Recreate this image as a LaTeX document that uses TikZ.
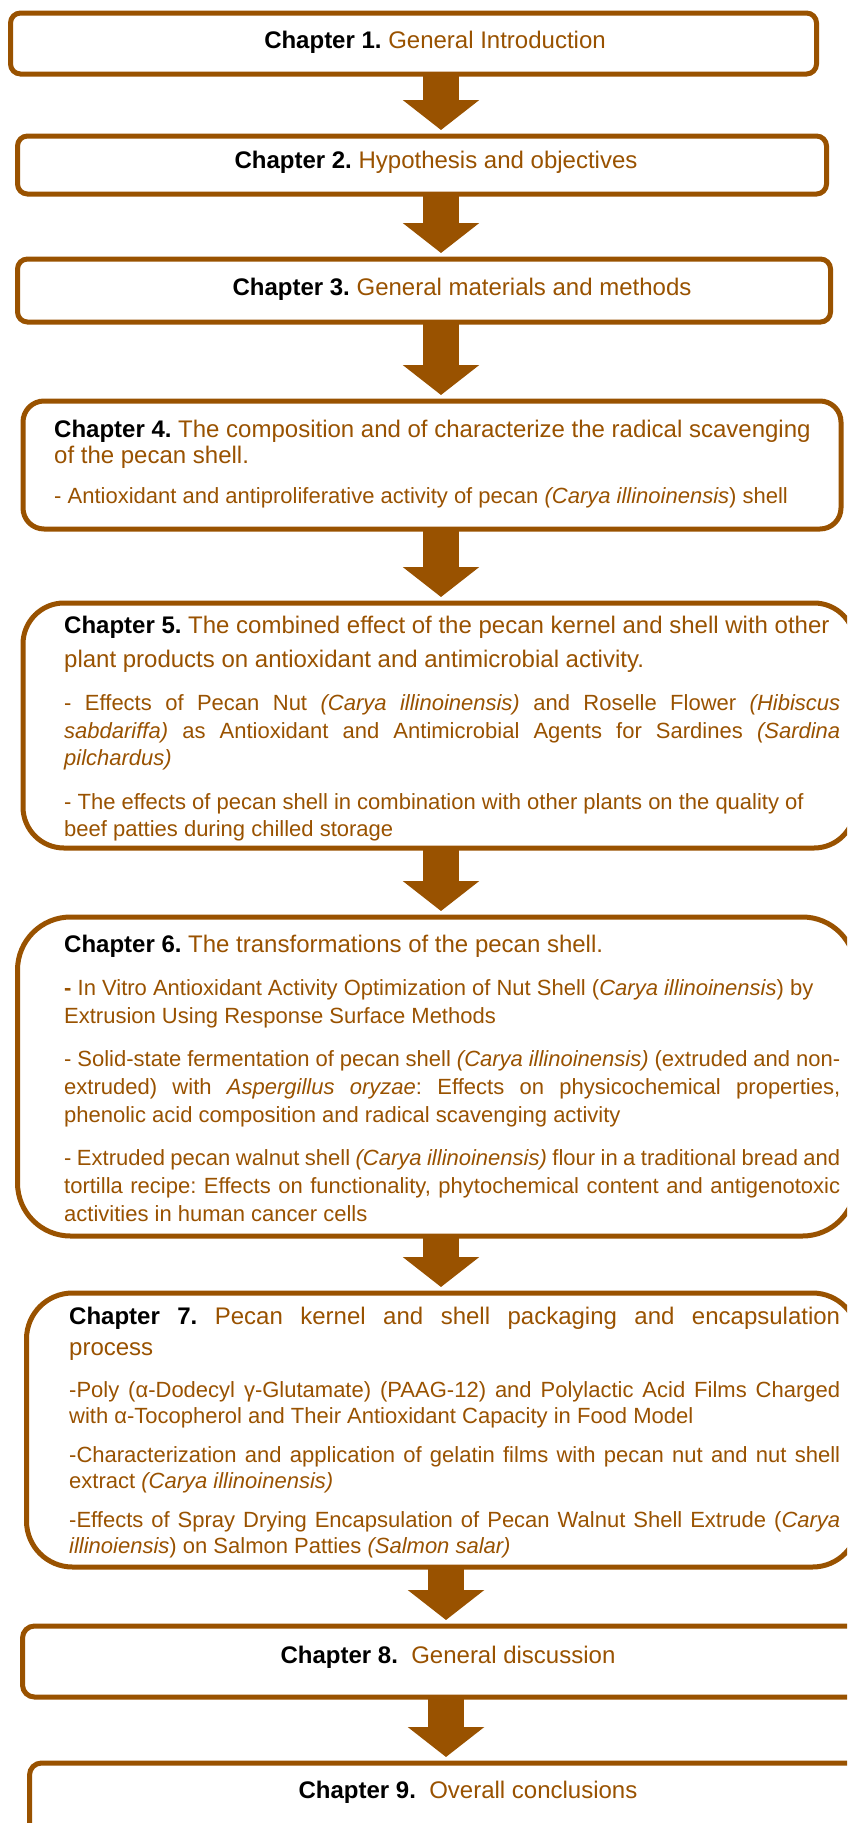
\documentclass[tikz,border=0pt]{standalone}
\usepackage{fontspec}
\setmainfont{Liberation Sans}
\usepackage{tikz}
\usetikzlibrary{arrows.meta}
\definecolor{pecan}{RGB}{153,82,0}
\frenchspacing
\newcommand{\chap}[1]{{\color{black}\bfseries #1}}
\newcommand{\headsize}[1]{\fontsize{24}{#1}\selectfont}
\newcommand{\bodysize}[1]{\fontsize{22}{#1}\selectfont}

\begin{document}
\begin{tikzpicture}[x=1pt,y=-1pt,
        chapbox/.style={draw=pecan, line width=5pt, fill=white, inner sep=0pt, outer sep=0pt, anchor=north west},
        chaptext/.style={inner sep=0pt, text=pecan, anchor=base, font={\headsize{28}}},
        listtext/.style={inner sep=0pt, text=pecan, anchor=base west},
        flow/.style={draw=pecan, line width=36pt, -{Triangle[length=30pt,width=75pt]}, shorten >=6pt}]
        \useasboundingbox (0,0) rectangle (847,1823);
        \clip (0,0) rectangle (847,1823);
        \begin{scope}

            \node[chapbox, rounded corners=10pt, minimum width=806pt, minimum height=61pt] (c1) at (10.5,13) {};
            \node[chapbox, rounded corners=10pt, minimum width=809pt, minimum height=58pt] (c2) at (17.5,136) {};
            \node[chapbox, rounded corners=10pt, minimum width=813pt, minimum height=63pt] (c3) at (17.5,259) {};
            \node[chapbox, rounded corners=21pt, minimum width=818pt, minimum height=128pt] (c4) at (23,401) {};
            \node[chapbox, rounded corners=41pt, minimum width=832pt, minimum height=245pt] (c5) at (23,603) {};
            \node[chapbox, rounded corners=53pt, minimum width=838pt, minimum height=319pt] (c6) at (17.5,917) {};
            \node[chapbox, rounded corners=46pt, minimum width=832pt, minimum height=274pt] (c7) at (26.5,1293) {};
            \node[chapbox, rounded corners=12pt, minimum width=860pt, minimum height=71pt] (c8) at (22.5,1626) {};
            \node[chapbox, rounded corners=12pt, minimum width=860pt, minimum height=90pt] (c9) at (29.5,1763) {};

            \coordinate (ax) at (441,0);
            \coordinate (bx) at (446,0);
            \draw[flow] (c1.south -| ax) -- (c2.north -| ax);
            \draw[flow] (c2.south -| ax) -- (c3.north -| ax);
            \draw[flow] (c3.south -| ax) -- (c4.north -| ax);
            \draw[flow] (c4.south -| ax) -- (c5.north -| ax);
            \draw[flow] (c5.south -| ax) -- (c6.north -| ax);
            \draw[flow] (c6.south -| ax) -- (c7.north -| ax);
            \draw[flow] (c7.south -| bx) -- (c8.north -| bx);
            \draw[flow] (c8.south -| bx) -- (c9.north -| bx);

            \node[chaptext] (t1) at (435,48) {\chap{Chapter 1.} General Introduction};
            \node[chaptext] (t2) at (436,168) {\chap{Chapter 2.} Hypothesis and objectives};
            \node[chaptext] (t3) at (462,295) {\chap{Chapter 3.} General materials and methods};

            \node[listtext] (t4) at (54,420) {\begin{minipage}[t]{780pt}
                \setlength{\parskip}{14pt}
                \headsize{26}\chap{Chapter 4.} The composition and of characterize the radical scavenging\newline of the pecan shell.\par
                \bodysize{26}- Antioxidant and antiproliferative activity of pecan \textit{(Carya illinoinensis}) shell\par
            \end{minipage}};

            \node[listtext] (t5) at (64,616) {\begin{minipage}[t]{776pt}
                \setlength{\parskip}{16pt}
                \headsize{34}\chap{Chapter 5.} The combined effect of the pecan kernel and shell with other\newline plant products on antioxidant and antimicrobial activity.\par
                \bodysize{27.5}- Effects of Pecan Nut \textit{(Carya illinoinensis)} and Roselle Flower \textit{(Hibiscus\linebreak sabdariffa)} as Antioxidant and Antimicrobial Agents for Sardines \textit{(Sardina\linebreak pilchardus)}\par
                - The effects of pecan shell in combination with other plants on the quality of\newline beef patties during chilled storage\par
            \end{minipage}};

            \node[listtext] (t6) at (64,935) {\begin{minipage}[t]{776pt}
                \setlength{\parskip}{15pt}
                \headsize{28}\chap{Chapter 6.} The transformations of the pecan shell.\par
                \bodysize{28}\textbf{-} In Vitro Antioxidant Activity Optimization of Nut Shell (\textit{Carya illinoinensis}) by\newline Extrusion Using Response Surface Methods\par
                - Solid-state fermentation of pecan shell \textit{(Carya illinoinensis)} (extruded and non-\linebreak extruded) with \textit{Aspergillus oryzae}: Effects on physicochemical properties,\linebreak phenolic acid composition and radical scavenging activity\par
                - Extruded pecan walnut shell \textit{(Carya illinoinensis)} flour in a traditional bread and\linebreak tortilla recipe: Effects on functionality, phytochemical content and antigenotoxic\linebreak activities in human cancer cells\par
            \end{minipage}};

            \node[listtext] (t7) at (69,1307) {\begin{minipage}[t]{771pt}
                \setlength{\parskip}{14pt}
                \headsize{31}\chap{Chapter 7.} Pecan kernel and shell packaging and encapsulation\linebreak process\par\vspace{3pt}
                \bodysize{25.5}-Poly (α-Dodecyl γ-Glutamate) (PAAG-12) and Polylactic Acid Films Charged\linebreak with α-Tocopherol and Their Antioxidant Capacity in Food Model\par
                -Characterization and application of gelatin films with pecan nut and nut shell\linebreak extract \textit{(Carya illinoinensis)}\par
                -Effects of Spray Drying Encapsulation of Pecan Walnut Shell Extrude (\textit{Carya\linebreak illinoiensis}) on Salmon Patties \textit{(Salmon salar)}\par
            \end{minipage}};

            \node[chaptext] (t8) at (448,1663) {\chap{Chapter 8.}\ \ General discussion};
            \node[chaptext] (t9) at (468,1798) {\chap{Chapter 9.}\ \ Overall conclusions};

        \end{scope}
    \end{tikzpicture}
\end{document}
